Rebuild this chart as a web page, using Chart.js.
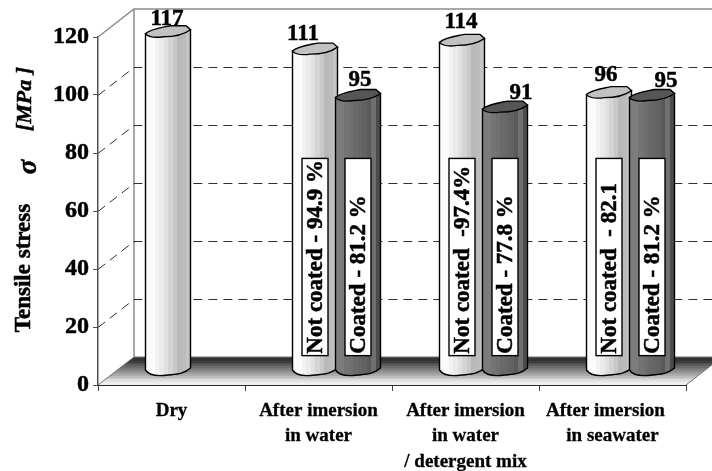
<!DOCTYPE html>
<html>
<head>
<meta charset="utf-8">
<title>Tensile stress</title>
<script src="https://cdn.jsdelivr.net/npm/chart.js@4"></script>
<style>
    html, body { margin: 0; padding: 0; background: #fff; }
    canvas { display: block; }
</style>
</head>
<body>
<canvas id="myChart" width="712" height="471"></canvas>
<script>
const categories = [
    "Dry",
    ["After imersion", "in water"],
    ["After imersion", "in water", "/ detergent mix"],
    ["After imersion   ", "in seawater"]
]
const notCoated = [117, 111, 114, 96]
const coated = [null, 95, 91, 95]
const notCoatedNotes = [null, "Not coated - 94.9 %", "Not coated  -97.4%", "Not coated  - 82.1"]
const coatedNotes = [null, "Coated - 81.2 %", "Coated - 77.8 %", "Coated - 81.2 %"]
const yTicks = [0, 20, 40, 60, 80, 100, 120]

const serif = "'Liberation Serif', serif"
// 3d look: the walls sit one full depth back, the cylinders half of it
const depthX = 36
const depthY = 28
const lightBands = ["#fbfbfb", "#fbfbfb", "#f2f2f2", "#eaeaea", "#e0e0e0", "#d4d4d4", "#c8c8c8", "#b8b8b8", "#bcbcbc", "#c4c4c4"]
const darkBands = ["#7c7c7c", "#7c7c7c", "#747474", "#707070", "#6a6a6a", "#666666", "#626262", "#5a5a5a", "#707070", "#4c4c4c"]
const floorBands = ["#333333", "#333333", "#3c3c3c", "#4c4c4c", "#5c5c5c", "#6c6c6c", "#7c7c7c", "#8c8c8c", "#9c9c9c", "#acacac", "#bcbcbc", "#cccccc", "#dcdcdc", "#e8e8e8", "#f0f0f0"]
// nudges of the value labels off the cylinder centre, as the original has them
const notCoatedLabelShift = [[-1, 2], [-12, 0], [-1, -3], [-3, -3]]
const coatedLabelShift = [[0, 0], [2, 0], [16, 1], [14, 1]]

function bandGradient(ctx, x0, y0, x1, y1, bands) {
    const g = ctx.createLinearGradient(x0, y0, x1, y1)
    bands.forEach((c, i) => {
        g.addColorStop(i / bands.length, c)
        g.addColorStop((i + 1) / bands.length, c)
    })
    return g
}

function drawWalls(chart) {
    const { ctx, chartArea: a, scales: { y } } = chart
    const bottom = y.getPixelForValue(0)
    const top = y.getPixelForValue(120)
    ctx.save()

    // floor
    ctx.beginPath()
    ctx.moveTo(a.left, bottom)
    ctx.lineTo(a.left + depthX, bottom - depthY)
    ctx.lineTo(a.right + depthX, bottom - depthY)
    ctx.lineTo(a.right, bottom)
    ctx.closePath()
    ctx.fillStyle = bandGradient(ctx, 0, bottom - depthY, 0, bottom, floorBands)
    ctx.fill()
    ctx.strokeStyle = "#707070"
    ctx.lineWidth = 1
    ctx.beginPath()
    ctx.moveTo(a.left, bottom)
    ctx.lineTo(a.left + depthX, bottom - depthY)
    ctx.lineTo(chart.width, bottom - depthY)
    ctx.moveTo(a.right, bottom)
    ctx.lineTo(a.right + depthX, bottom - depthY)
    ctx.stroke()

    // side and back frame
    ctx.strokeStyle = "#8c8c8c"
    ctx.lineWidth = 1.5
    ctx.beginPath()
    ctx.moveTo(a.left, top)
    ctx.lineTo(a.left + depthX, top - depthY)
    ctx.lineTo(chart.width, top - depthY)
    ctx.moveTo(a.left + depthX, top - depthY)
    ctx.lineTo(a.left + depthX, bottom - depthY)
    ctx.stroke()

    // dashed grid
    ctx.strokeStyle = "#303030"
    ctx.lineWidth = 1
    ctx.setLineDash([9, 6])
    for (const v of yTicks) {
        if (v === 0 || v === 120) continue
        const py = Math.round(y.getPixelForValue(v)) + 0.5
        ctx.beginPath()
        ctx.moveTo(a.left, py)
        ctx.lineTo(a.left + depthX, py - depthY)
        ctx.lineTo(chart.width, py - depthY)
        ctx.stroke()
    }
    ctx.restore()
}

function drawCylinder(ctx, el, base, bands, capColor) {
    const w = el.width + 2
    const x0 = el.x + depthX / 2 - w / 2
    const x1 = x0 + w
    const yt = el.y - depthY / 2
    const yb = base - depthY / 2
    ctx.save()
    ctx.lineWidth = 1.4
    ctx.strokeStyle = "#000"

    ctx.beginPath()
    ctx.moveTo(x0, yt + 2)
    ctx.lineTo(x0, yb - 1)
    ctx.bezierCurveTo(x0 + w * 0.1, yb + 6, x0 + w * 0.35, yb + 5, x0 + w * 0.5, yb + 4)
    ctx.bezierCurveTo(x0 + w * 0.7, yb + 3, x0 + w * 0.85, yb + 3, x1, yb - 3)
    ctx.lineTo(x1, yt - 2)
    ctx.closePath()
    ctx.fillStyle = bandGradient(ctx, x0, 0, x1, 0, bands)
    ctx.fill()
    ctx.stroke()

    ctx.beginPath()
    ctx.moveTo(x0, yt + 2)
    ctx.bezierCurveTo(x0 + w * 0.12, yt - 3, x0 + w * 0.35, yt - 4, x0 + w * 0.55, yt - 6)
    ctx.lineTo(x0 + w * 0.9, yt - 6)
    ctx.lineTo(x1, yt - 2)
    ctx.bezierCurveTo(x0 + w * 0.85, yt + 3, x0 + w * 0.65, yt + 5, x0 + w * 0.4, yt + 5)
    ctx.bezierCurveTo(x0 + w * 0.25, yt + 6, x0 + w * 0.08, yt + 6, x0, yt + 2)
    ctx.closePath()
    ctx.fillStyle = capColor
    ctx.fill()
    ctx.stroke()
    ctx.restore()
}

function boldText(ctx, text, x, y) {
    ctx.lineWidth = 0.5
    ctx.strokeStyle = "#000"
    ctx.fillStyle = "#000"
    ctx.strokeText(text, x, y)
    ctx.fillText(text, x, y)
}

function drawNote(chart, el, text) {
    const { ctx, scales: { y } } = chart
    const cx = el.x + depthX / 2
    const boxTop = y.getPixelForValue(73.3) - depthY / 2
    const boxBottom = y.getPixelForValue(5.3) - depthY / 2
    ctx.save()
    ctx.fillStyle = "#fff"
    ctx.strokeStyle = "#000"
    ctx.lineWidth = 1.4
    ctx.fillRect(cx - 13, boxTop, 26, boxBottom - boxTop)
    ctx.strokeRect(cx - 13, boxTop, 26, boxBottom - boxTop)
    ctx.translate(cx, boxBottom - 2)
    ctx.rotate(-Math.PI / 2)
    ctx.font = "bold 23px " + serif
    ctx.textAlign = "left"
    ctx.textBaseline = "middle"
    boldText(ctx, text, 0, 1)
    ctx.restore()
}

function drawValue(chart, el, value, shift) {
    const { ctx } = chart
    ctx.save()
    ctx.font = "bold 23px " + serif
    ctx.textAlign = "center"
    ctx.textBaseline = "middle"
    boldText(ctx, value, el.x + depthX / 2 + shift[0], el.y - depthY / 2 - 15 + shift[1])
    ctx.restore()
}

function drawAxisTitle(chart) {
    const { ctx } = chart
    const piece = (text, font, x, y) => {
        ctx.save()
        ctx.translate(x, y)
        ctx.rotate(-Math.PI / 2)
        ctx.font = font
        ctx.textAlign = "center"
        ctx.textBaseline = "middle"
        boldText(ctx, text, 0, 0)
        ctx.restore()
    }
    piece("Tensile stress", "bold 23px " + serif, 24, 268)
    piece("σ", "italic bold 27px " + serif, 29, 167)
    piece("[MPa ]", "italic bold 22px " + serif, 25, 99)
}

const cylinders = {
    id: "cylinders",
    beforeDatasetsDraw(chart) {
        drawWalls(chart)
        drawAxisTitle(chart)
    },
    beforeDatasetDraw() {
        // cylinders are painted together afterwards so coated stays in front
        return false
    },
    afterDatasetsDraw(chart) {
        const { ctx, scales: { y } } = chart
        const base = y.getPixelForValue(0)
        const lightEls = chart.getDatasetMeta(0).data
        const darkEls = chart.getDatasetMeta(1).data
        categories.forEach((c, i) => {
            drawCylinder(ctx, lightEls[i], base, lightBands, "#c2c2c2")
            if (coated[i] !== null) drawCylinder(ctx, darkEls[i], base, darkBands, "#565656")
            if (notCoatedNotes[i]) drawNote(chart, lightEls[i], notCoatedNotes[i])
            if (coatedNotes[i]) drawNote(chart, darkEls[i], coatedNotes[i])
            drawValue(chart, lightEls[i], notCoated[i], notCoatedLabelShift[i])
            if (coated[i] !== null) drawValue(chart, darkEls[i], coated[i], coatedLabelShift[i])
        })
    }
}

new Chart(document.getElementById("myChart"), {
    type: "bar",
    plugins: [cylinders],
    data: {
        labels: categories,
        datasets: [
            { label: "Not coated", data: notCoated, backgroundColor: "#e0e0e0" },
            { label: "Coated", data: coated, backgroundColor: "#6a6a6a" }
        ]
    },
    options: {
        responsive: false,
        animation: false,
        layout: { padding: { top: 37, right: 26 } },
        plugins: { legend: { display: false }, tooltip: { enabled: false } },
        categoryPercentage: 0.585,
        barPercentage: 1,
        scales: {
            x: {
                afterFit: s => { s.height = 86 },
                border: { color: "#2a2a2a", width: 2 },
                grid: { drawOnChartArea: false, tickLength: 6, tickColor: "#444" },
                ticks: {
                    color: "#000",
                    maxRotation: 0,
                    autoSkip: false,
                    padding: 7,
                    textStrokeColor: "#000",
                    textStrokeWidth: 0.3,
                    font: { family: serif, weight: "bold", size: 19, lineHeight: 1.34 }
                }
            },
            y: {
                min: 0,
                max: 120,
                afterFit: s => { s.width = 98 },
                afterBuildTicks: s => { s.ticks = yTicks.map(v => ({ value: v })) },
                border: { color: "#505050", width: 1.5 },
                grid: { drawOnChartArea: false, tickLength: 5, tickColor: "#505050" },
                ticks: {
                    color: "#000",
                    padding: 4,
                    textStrokeColor: "#000",
                    textStrokeWidth: 0.5,
                    font: { family: serif, weight: "bold", size: 24 }
                }
            }
        }
    }
})
</script>
</body>
</html>
